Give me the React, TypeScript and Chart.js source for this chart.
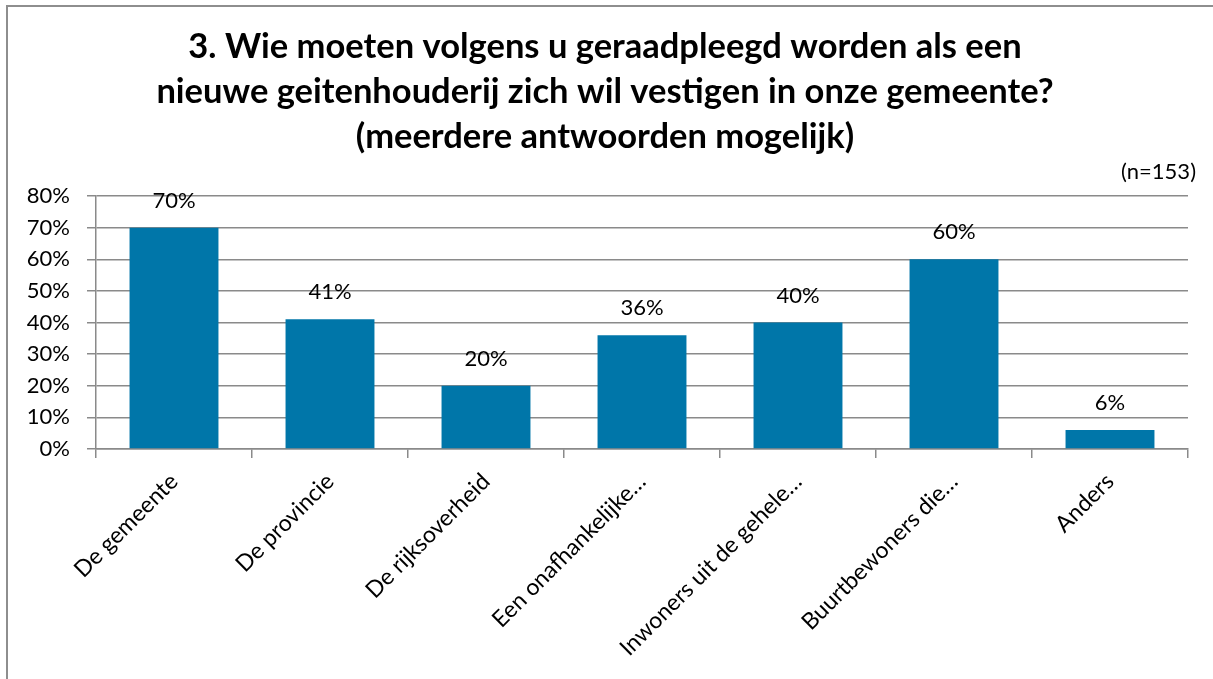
import React, { useEffect, useRef } from "react";
import { Chart, registerables } from "chart.js";

Chart.register(...registerables);

const categories = [
  "De gemeente",
  "De provincie",
  "De rijksoverheid",
  "Een onafhankelijke…",
  "Inwoners uit de gehele…",
  "Buurtbewoners die…",
  "Anders",
];
const values = [70, 41, 20, 36, 40, 60, 6];
const titleLines = [
  "3. Wie moeten volgens u geraadpleegd worden als een",
  "nieuwe geitenhouderij zich wil vestigen in onze gemeente?",
  "(meerdere antwoorden mogelijk)",
];
const sampleNote = "(n=153)";

const FONT = "Lato, 'Open Sans', sans-serif";
const GRID = "#8a8a8a";
const BAR = "#0076A9";

export default function App() {
  const ref = useRef<HTMLCanvasElement | null>(null);

  useEffect(() => {
    if (!ref.current) return;
    const labelPlugin = {
      id: "valueLabels",
      afterDatasetsDraw(chart: any) {
        const ctx = chart.ctx;
        const meta = chart.getDatasetMeta(0);
        ctx.save();
        ctx.font = `22px ${FONT}`;
        ctx.fillStyle = "#000";
        ctx.textAlign = "center";
        ctx.textBaseline = "middle";
        meta.data.forEach((el: any, i: number) => {
          ctx.fillText(values[i] + "%", el.x, el.y - 27);
        });
        ctx.textAlign = "right";
        ctx.fillText(sampleNote, chart.chartArea.right + 8, chart.chartArea.top - 24);
        ctx.restore();
      },
    };
    const chart = new Chart(ref.current, {
      type: "bar",
      data: {
        labels: categories,
        datasets: [
          {
            data: values,
            backgroundColor: BAR,
            borderWidth: 0,
            barPercentage: 0.57,
            categoryPercentage: 1,
          },
        ],
      },
      options: {
        responsive: false,
        animation: false,
        layout: { padding: { left: 22, right: 25, top: 0, bottom: 0 } },
        plugins: {
          legend: { display: false },
          tooltip: { enabled: false },
          title: {
            display: true,
            text: titleLines,
            color: "#000",
            font: { family: FONT, size: 34.5, weight: "bold", lineHeight: 45 / 34.5 },
            padding: { top: 24, bottom: 37 },
          },
        },
        scales: {
          x: {
            afterFit: (s: any) => {
              s.height = 230;
            },
            grid: {
              display: true,
              offset: true,
              drawOnChartArea: false,
              drawTicks: true,
              tickLength: 9,
              color: GRID,
              lineWidth: 1.5,
            },
            border: { display: true, color: GRID, width: 1.5 },
            ticks: {
              autoSkip: false,
              maxRotation: 45,
              minRotation: 45,
              padding: 10,
              color: "#000",
              font: { family: FONT, size: 23 },
            },
          },
          y: {
            min: 0,
            max: 80,
            afterFit: (s: any) => {
              s.width = 74;
            },
            grid: {
              color: GRID,
              lineWidth: 1.5,
              drawTicks: true,
              tickLength: 9,
            },
            border: { display: true, color: GRID, width: 1.5 },
            ticks: {
              stepSize: 10,
              padding: 17,
              color: "#000",
              font: { family: FONT, size: 22 },
              callback: (v: any) => v + "%",
            },
          },
        },
      },
      plugins: [labelPlugin],
    });
    return () => chart.destroy();
  }, []);

  return (
    <div style={{ position: "absolute", left: 0, top: 0, width: 1213, height: 679, background: "#fff", overflow: "hidden" }}>
      <div
        style={{
          position: "absolute",
          left: 6,
          top: 5,
          width: 1207,
          height: 674,
          borderLeft: "2px solid #8e8e8e",
          borderTop: "2px solid #8e8e8e",
          boxSizing: "border-box",
        }}
      />
      <canvas ref={ref} width={1213} height={679} style={{ position: "absolute", left: 0, top: 0 }} />
    </div>
  );
}
